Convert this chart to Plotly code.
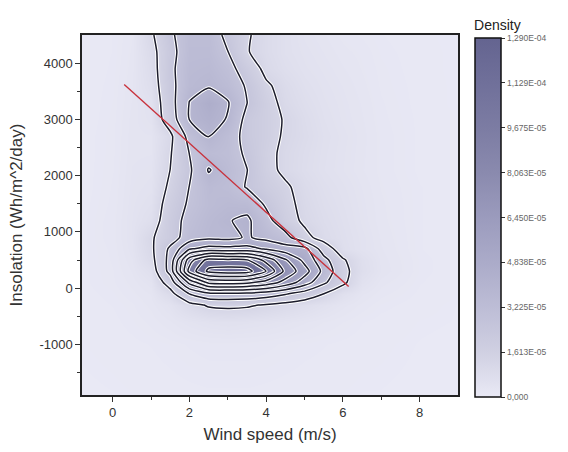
import numpy as np
import plotly.graph_objects as go

# Grid of estimated density (units of 1e-5)
wind_speed = [-0.8, 0.0, 0.5, 1.0, 1.5, 2.0, 2.5, 3.0, 3.5, 4.0, 4.5, 5.0, 5.5, 6.0, 6.5, 7.0, 8.0, 9.0]
insolation = [-1900, -1000, -600, -300, -100, 100, 300, 500, 700, 900, 1200, 1500,
              1800, 2100, 2400, 2700, 3000, 3300, 3600, 3900, 4200, 4500]
density_e5 = [
    [0.02, 0.03, 0.04, 0.05, 0.06, 0.07, 0.08, 0.08, 0.08, 0.07, 0.06, 0.05, 0.05, 0.04, 0.03, 0.03, 0.02, 0.02],
    [0.04, 0.06, 0.08, 0.10, 0.13, 0.17, 0.20, 0.20, 0.20, 0.18, 0.15, 0.12, 0.10, 0.08, 0.06, 0.05, 0.03, 0.02],
    [0.05, 0.08, 0.12, 0.18, 0.28, 0.40, 0.50, 0.55, 0.50, 0.45, 0.38, 0.30, 0.22, 0.16, 0.10, 0.07, 0.04, 0.03],
    [0.06, 0.10, 0.15, 0.25, 0.45, 0.95, 1.40, 1.48, 1.42, 1.20, 0.95, 0.72, 0.50, 0.32, 0.20, 0.12, 0.06, 0.03],
    [0.07, 0.12, 0.20, 0.30, 0.90, 2.60, 3.60, 3.70, 3.60, 3.30, 2.70, 2.00, 1.30, 0.60, 0.30, 0.18, 0.08, 0.04],
    [0.08, 0.15, 0.25, 0.40, 1.80, 5.50, 8.00, 8.20, 8.00, 7.20, 6.00, 4.50, 2.80, 1.50, 0.50, 0.25, 0.10, 0.04],
    [0.08, 0.16, 0.30, 0.60, 3.00, 9.50, 11.9, 12.2, 12.1, 10.3, 7.40, 5.70, 3.50, 1.60, 0.70, 0.35, 0.12, 0.05],
    [0.08, 0.17, 0.35, 0.90, 3.00, 8.50, 10.8, 10.6, 10.4, 8.60, 6.60, 4.80, 3.00, 1.40, 0.65, 0.33, 0.12, 0.05],
    [0.08, 0.18, 0.40, 1.05, 2.80, 5.00, 5.60, 5.50, 5.60, 5.00, 4.40, 4.30, 1.90, 0.70, 0.45, 0.30, 0.10, 0.05],
    [0.08, 0.20, 0.42, 1.15, 2.00, 3.20, 3.60, 3.50, 4.00, 3.50, 3.00, 1.60, 0.90, 0.65, 0.45, 0.28, 0.10, 0.05],
    [0.08, 0.20, 0.42, 0.70, 2.00, 3.00, 3.50, 3.80, 4.10, 3.00, 1.80, 1.10, 0.80, 0.60, 0.40, 0.25, 0.10, 0.05],
    [0.07, 0.18, 0.40, 0.55, 1.80, 2.75, 3.30, 3.50, 3.40, 2.40, 1.60, 1.00, 0.72, 0.55, 0.38, 0.24, 0.10, 0.05],
    [0.06, 0.17, 0.38, 0.45, 1.50, 2.60, 3.40, 3.20, 2.50, 1.90, 1.45, 0.90, 0.65, 0.50, 0.35, 0.22, 0.10, 0.05],
    [0.06, 0.16, 0.36, 0.40, 1.30, 2.40, 3.95, 3.30, 2.60, 1.65, 1.05, 0.75, 0.55, 0.42, 0.30, 0.20, 0.08, 0.04],
    [0.06, 0.15, 0.34, 0.35, 1.20, 2.60, 3.30, 3.10, 2.40, 1.60, 1.05, 0.78, 0.57, 0.43, 0.31, 0.20, 0.08, 0.04],
    [0.06, 0.15, 0.33, 0.35, 1.05, 3.00, 3.90, 3.20, 2.20, 1.70, 1.15, 0.85, 0.60, 0.45, 0.32, 0.20, 0.08, 0.04],
    [0.05, 0.14, 0.32, 0.45, 1.90, 3.90, 4.30, 3.80, 2.20, 1.70, 1.20, 0.80, 0.55, 0.40, 0.30, 0.18, 0.08, 0.04],
    [0.05, 0.13, 0.30, 0.50, 2.10, 3.90, 4.60, 3.95, 2.60, 1.70, 1.00, 0.70, 0.50, 0.38, 0.28, 0.17, 0.07, 0.03],
    [0.05, 0.12, 0.28, 0.70, 2.20, 3.50, 3.75, 3.30, 2.45, 1.45, 0.90, 0.60, 0.45, 0.35, 0.25, 0.15, 0.07, 0.03],
    [0.04, 0.11, 0.26, 0.80, 2.30, 3.40, 3.50, 3.00, 2.00, 1.00, 0.70, 0.50, 0.40, 0.30, 0.22, 0.14, 0.06, 0.03],
    [0.04, 0.10, 0.24, 0.90, 2.20, 3.30, 3.30, 2.60, 1.35, 0.90, 0.60, 0.45, 0.35, 0.25, 0.20, 0.12, 0.06, 0.03],
    [0.04, 0.10, 0.22, 1.10, 2.40, 3.20, 3.20, 2.30, 1.40, 0.90, 0.60, 0.40, 0.30, 0.20, 0.15, 0.10, 0.05, 0.03],
]

# Fitted line endpoints
fit_x = [0.3, 6.15]
fit_y = [3620, 30]

# Tick labels
x_ticks = [0, 2, 4, 6, 8]
y_ticks = [-1000, 0, 1000, 2000, 3000, 4000]
y_ticktext = ["-1000", "0", "1000", "2000", "3000", "4000"]
cb_tickvals = [0, 1.613e-5, 3.225e-5, 4.838e-5, 6.450e-5, 8.063e-5, 9.675e-5, 1.129e-4, 1.290e-4]
cb_ticktext = ["0,000", "1,613E-05", "3,225E-05", "4,838E-05", "6,450E-05",
               "8,063E-05", "9,675E-05", "1,129E-04", "1,290E-04"]

z = np.array(density_e5) * 1e-5
zmax = 1.29e-4
colorscale = [[0.0, "#e9e9f5"], [0.125, "#d0d0e2"], [0.25, "#bdbdd6"], [0.375, "#ababc9"],
              [0.5, "#9b9bbd"], [0.625, "#8a8aae"], [0.75, "#7c7ca3"], [0.875, "#70709a"],
              [1.0, "#646490"]]
levels = dict(start=1.29e-5, end=1.17e-4, size=1.29e-5)

fig = go.Figure()
fig.add_trace(go.Heatmap(
    x=wind_speed, y=insolation, z=z, zmin=0, zmax=zmax, zsmooth="best",
    colorscale=colorscale,
    colorbar=dict(
        title=dict(text="Density", side="top", font=dict(size=14, color="#222")),
        tickvals=cb_tickvals, ticktext=cb_ticktext,
        tickfont=dict(size=8.5, color="#666"),
        ticks="outside", ticklen=4, tickcolor="#333",
        outlinecolor="#111", outlinewidth=1.5,
        thickness=26, thicknessmode="pixels",
        len=400, lenmode="pixels",
        x=1.018, xanchor="left", y=0.522, yanchor="middle",
    ),
    hoverinfo="skip",
))
fig.add_trace(go.Contour(
    x=wind_speed, y=insolation, z=z,
    contours=dict(coloring="none", **levels),
    line=dict(color="white", width=3.5, smoothing=0.6),
    showscale=False, hoverinfo="skip",
))
fig.add_trace(go.Contour(
    x=wind_speed, y=insolation, z=z,
    contours=dict(coloring="none", **levels),
    line=dict(color="#1c1c2c", width=1.5, smoothing=0.6),
    showscale=False, hoverinfo="skip",
))
fig.add_trace(go.Scatter(
    x=fit_x, y=fit_y, mode="lines",
    line=dict(color="#c8323c", width=1.4), showlegend=False, hoverinfo="skip",
))

axis_common = dict(
    showline=True, linecolor="#222", linewidth=1.5, mirror=True,
    ticks="outside", ticklen=5, tickcolor="#333", tickwidth=1,
    showgrid=False, zeroline=False,
    tickfont=dict(size=13, color="#333"),
)
fig.update_xaxes(
    range=[-0.8, 9.0], tickvals=x_ticks,
    minor=dict(tickvals=[1, 3, 5, 7], ticks="outside", ticklen=3, tickcolor="#333"),
    title=dict(text="Wind speed (m/s)", font=dict(size=17, color="#333"), standoff=9),
    **axis_common,
)
fig.update_yaxes(
    range=[-1900, 4500], tickvals=y_ticks, ticktext=y_ticktext,
    minor=dict(tickvals=[-1500, -500, 500, 1500, 2500, 3500], ticks="outside", ticklen=3, tickcolor="#333"),
    title=dict(text="Insolation (Wh/m^2/day)", font=dict(size=17, color="#333"), standoff=12),
    **axis_common,
)
fig.update_layout(
    width=568, height=452,
    margin=dict(l=82, r=110, t=35, b=57, autoexpand=False),
    paper_bgcolor="white", plot_bgcolor="#e9e9f5",
    font=dict(family="Liberation Sans, Arial, sans-serif"),
    showlegend=False,
)
fig.write_html("out.html")
